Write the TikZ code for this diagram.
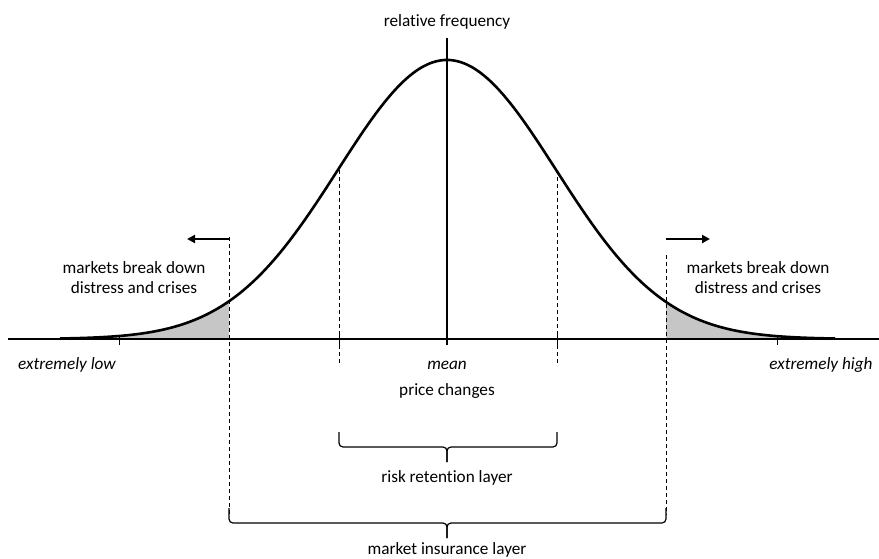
\documentclass[tikz,border=0pt]{standalone}
\usepackage{fontspec}
\setmainfont{Carlito}[Ligatures=NoCommon]
\usetikzlibrary{arrows.meta}

\tikzset{
  lbl/.style={font=\fontsize{17.2}{20}\selectfont, inner sep=0pt, anchor=base, align=center},
  curveline/.style={line width=2.6pt},
  guide/.style={line width=0.9pt, dash pattern=on 4pt off 3pt},
  bracket/.style={line width=1.2pt, rounded corners=4pt},
  tail/.style={fill=gray!45},
}

\begin{document}
\begin{tikzpicture}[x=1pt,y=-1pt]
\useasboundingbox (0,0) rectangle (879,558);

% shaded tails
\fill[tail] (229,339) -- plot[domain=229:60,samples=60] (\x,{339-279*exp(-((\x-447)/109)^2/2)}) -- cycle;
\fill[tail] (666,339) -- plot[domain=666:835,samples=60] (\x,{339-279*exp(-((\x-447)/109)^2/2)}) -- cycle;

% axes
\coordinate (xl) at (8,339);
\coordinate (xr) at (879,339);
\coordinate (ytop) at (447,38);
\coordinate (ybot) at (447,345);
\draw[curveline] (xl) -- (xr);
\draw[curveline] (ytop) -- (ybot);
\foreach \t in {119,339,557,777}
  \draw[line width=1pt] (\t,335) -- (\t,345);

% bell curve
\draw[curveline] plot[domain=60:835,samples=160,smooth] (\x,{339-279*exp(-((\x-447)/109)^2/2)});

% guides
\draw[guide] (229,237) -- (229,515);
\draw[guide] (666,255) -- (666,515);
\draw[guide] (339,170) -- (339,365);
\draw[guide] (557,170) -- (557,365);

% braces
\draw[bracket] (339,432) -- (339,447) -- (447,447) -- (447,462);
\draw[bracket] (557,432) -- (557,447) -- (447,447) -- (447,462);
\draw[bracket] (229,508) -- (229,523) -- (447,523) -- (447,538);
\draw[bracket] (666,508) -- (666,523) -- (447,523) -- (447,538);

% arrows
\coordinate (la) at (229,239);
\coordinate (lb) at (187,239);
\coordinate (ra) at (666,239);
\coordinate (rb) at (710,239);
\draw[curveline,-{Triangle[length=8pt,width=8pt]}] (la) -- (lb);
\draw[curveline,-{Triangle[length=8pt,width=8pt]}] (ra) -- (rb);

% labels
\node[lbl] (FREQ) at (447,26) {relative frequency};
\node[lbl] (LOWTXT) at (134,293) {markets break down\\distress and crises};
\node[lbl] (HIGHTXT) at (758,293) {markets break down\\distress and crises};
\node[lbl] (LOW) at (67,369) {\itshape extremely low};
\node[lbl] (HIGH) at (821,369) {\itshape extremely high};
\node[lbl] (MEAN) at (447,369) {\itshape mean};
\node[lbl] (PRICE) at (447,395) {price changes};
\node[lbl] (RETAIN) at (447,482) {risk retention layer};
\node[lbl] (INSURE) at (447,554) {market insurance layer};
\end{tikzpicture}
\end{document}
